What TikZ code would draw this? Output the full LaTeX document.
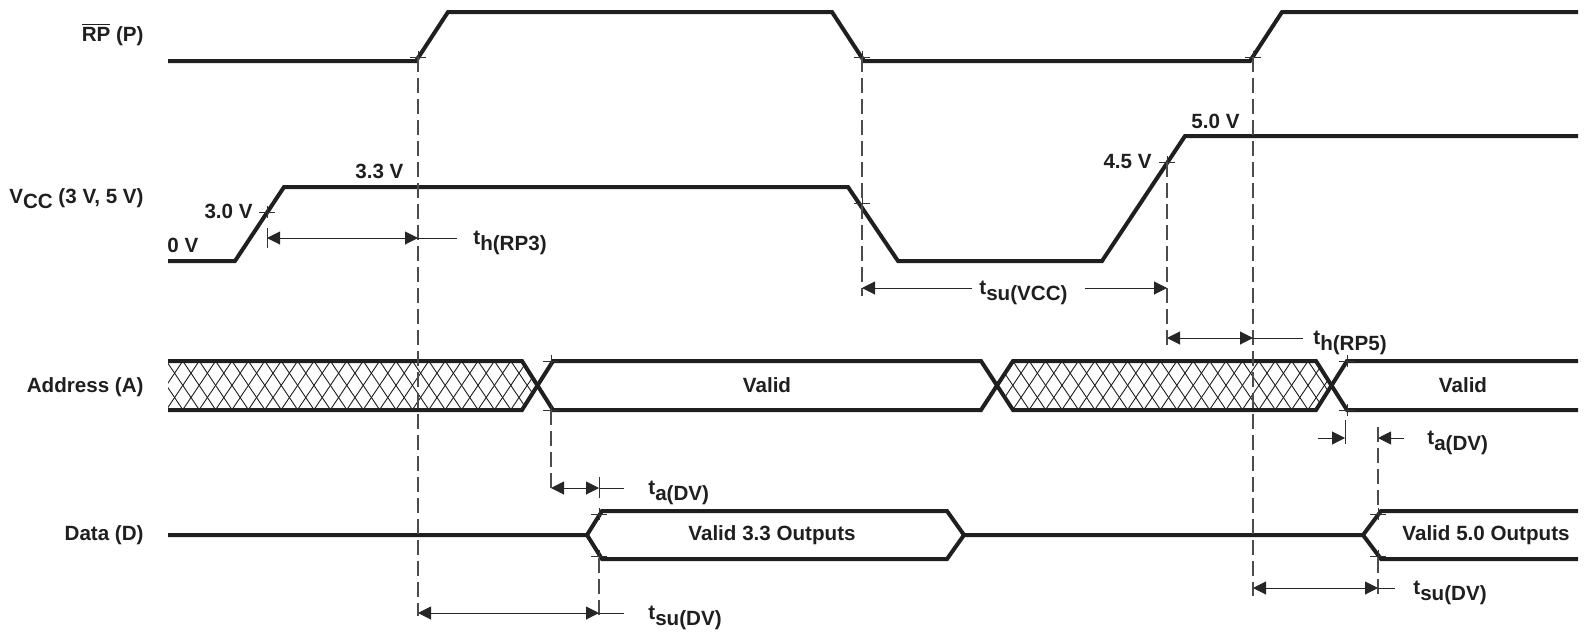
\documentclass[tikz,border=0pt]{standalone}
\usepackage{fontspec}
\setmainfont{Liberation Sans}
\usetikzlibrary{arrows.meta}
\newcommand{\tm}[1]{t\raisebox{-3pt}{#1}}

\begin{document}
\begin{tikzpicture}[x=0.5pt,y=-0.5pt,
  sig/.style={line width=2pt,black!88,line join=miter},
  hatch/.style={line width=0.45pt,black!88},
  guide/.style={line width=0.6pt,black!70,dash pattern=on 7.5pt off 3pt},
  dim/.style={line width=0.5pt,black!85},
  tk/.style={line width=0.5pt,black!80},
  lab/.style={font=\fontsize{10.3}{12}\selectfont\bfseries,text=black!88,inner sep=0pt}]
\useasboundingbox (0,0) rectangle (1590,633);
\tikzset{>={Triangle[length=6.5pt,width=6.5pt]}}
% signal names
\node[lab,anchor=base east] (nRP) at (144,41) {$\overline{\hbox{RP}}$ (P)};
\node[lab,anchor=base east] (nVCC) at (144,203) {V\raisebox{-2.5pt}{CC} (3 V, 5 V)};
\node[lab,anchor=base east] (nA) at (144,392) {Address (A)};
\node[lab,anchor=base east] (nD) at (144,540) {Data (D)};
% RP# and Vcc waveforms
\draw[sig] (168,61)--(416,61)--(448,12)--(832,12)--(864,61)--(1250,61)--(1282,12)--(1578,12);
\draw[sig] (168,261)--(235,261)--(284,187)--(848,187)--(898,261)--(1102,261)--(1185,136)--(1578,136);
\node[lab,anchor=base west] (v00) at (167,252) {0 V};
\node[lab,anchor=base east] (v30) at (253,218) {3.0 V};
\node[lab,anchor=base west] (v33) at (355,178) {3.3 V};
\node[lab,anchor=base east] (v45) at (1152,168) {4.5 V};
\node[lab,anchor=base west] (v50) at (1191,128) {5.0 V};
% address bus, crosshatch where invalid
\begin{scope}
  \clip (168,361)--(522,361)--(537.5,385.5)--(522,410)--(168,410)--cycle;
  \foreach \i in {150,166.4,...,560}{\draw[hatch] (\i,361)--++(33,49); \draw[hatch] (\i,361)--++(-33,49);}
\end{scope}
\begin{scope}
  \clip (997,385.5)--(1013,361)--(1316,361)--(1332,385.5)--(1316,410)--(1013,410)--cycle;
  \foreach \i in {980,996.4,...,1360}{\draw[hatch] (\i,361)--++(33,49); \draw[hatch] (\i,361)--++(-33,49);}
\end{scope}
\draw[sig] (168,361)--(522,361)--(553,410)--(981,410)--(1013,361)--(1316,361)--(1347,410)--(1578,410);
\draw[sig] (168,410)--(522,410)--(553,361)--(981,361)--(1013,410)--(1316,410)--(1347,361)--(1578,361);
\node[lab,anchor=base] (aV1) at (767,392) {Valid};
\node[lab,anchor=base] (aV2) at (1463,392) {Valid};
% data bus
\draw[sig] (168,535)--(587,535)--(602,511)--(947,511)--(964,535)--(1363,535)--(1381,511)--(1578,511);
\draw[sig] (587,535)--(602,559)--(947,559)--(964,535);
\draw[sig] (1363,535)--(1381,559)--(1578,559);
\node[lab,anchor=base] (dV1) at (772,540) {Valid 3.3 Outputs};
\node[lab,anchor=base] (dV2) at (1486,540) {Valid 5.0 Outputs};
% reference points
\coordinate (rpA) at (418,57);  \coordinate (rpB) at (862,57);  \coordinate (rpC) at (1253,57);
\coordinate (vA) at (267,212);  \coordinate (vB) at (862,203);  \coordinate (vC) at (1167,162);
\coordinate (aA) at (551,410);  \coordinate (aB) at (1345,410);
\coordinate (dA) at (599,558);  \coordinate (dB) at (1378,558);
\foreach \p in {(rpA),(rpB),(rpC),(vA),(vB),(vC),(551,361),(551,410),(1347,361),(1347,410),(599,514),(599,556),(1378,514),(1378,556)}
  {\draw[tk] \p ++(-8,0)--++(16,0) \p ++(0,-6)--++(0,12);}
% guide lines
\draw[guide] (rpA)--(418,616);
\draw[guide] (rpB)--(862,296);
\draw[guide] (vC)--(1167,345);
\draw[guide] (rpC)--(1253,596);
\draw[guide] (aA)--(551,494);
\draw[guide] (dA)--(599,620);
\draw[guide] (1378,427)--(1378,511);
\draw[guide] (dB)--(1378,596);
\draw[tk] (267,228)--(267,248);
\draw[tk] (599,477)--(599,498);
\draw[tk] (1345,420)--(1345,444);
% timing arrows
\draw[dim,<->] (267,238)--(418,238); \draw[dim] (418,238)--(457,238);
\node[lab,anchor=base west] (thA) at (473,244) {\tm{h(RP3)}};
\draw[dim,<-] (862,288)--(972,288); \draw[dim,->] (1085,288)--(1167,288);
\node[lab,anchor=base west] (tsV) at (979,294) {\tm{su(VCC)}};
\draw[dim,<->] (1167,338)--(1253,338); \draw[dim] (1253,338)--(1303,338);
\node[lab,anchor=base west] (thB) at (1313,344) {\tm{h(RP5)}};
\draw[dim,<->] (551,488)--(599,488); \draw[dim] (599,488)--(624,488);
\node[lab,anchor=base west] (taA) at (648,494) {\tm{a(DV)}};
\draw[dim,<->] (418,613)--(599,613); \draw[dim] (599,613)--(624,613);
\node[lab,anchor=base west] (tsA) at (648,619) {\tm{su(DV)}};
\draw[dim,->] (1318,438)--(1345,438); \draw[dim,->] (1404,438)--(1378,438);
\node[lab,anchor=base west] (taB) at (1427,444) {\tm{a(DV)}};
\draw[dim,<->] (1253,588)--(1378,588); \draw[dim] (1378,588)--(1395,588);
\node[lab,anchor=base west] (tsB) at (1413,594) {\tm{su(DV)}};
\end{tikzpicture}
\end{document}
